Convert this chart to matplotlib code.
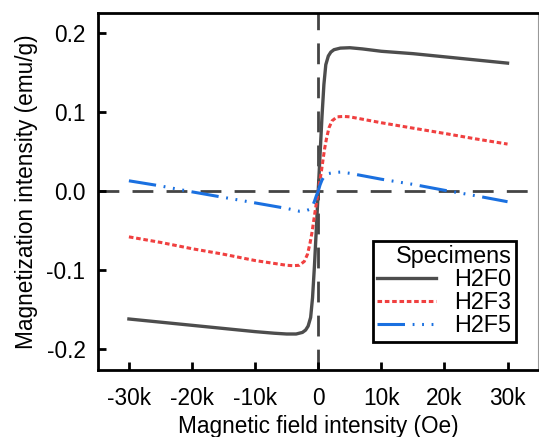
import matplotlib
matplotlib.use("Agg")
from matplotlib import pyplot as plt

plt.rcParams['font.family'] = ['Liberation Sans', 'DejaVu Sans']
plt.rcParams['font.size'] = 16.3

# champ (Oe) et aimantation (emu/g)
H_f0 = [-30000, -25000, -20000, -15000, -10000, -7000, -5000, -3500, -2500, -2000,
        -1600, -1200, -900, -600, -300, 0, 300, 600, 900, 1200, 1600, 2000, 2500,
        3500, 5000, 7000, 10000, 15000, 20000, 25000, 30000]
M_f0 = [-0.162, -0.166, -0.170, -0.174, -0.178, -0.180, -0.181, -0.181, -0.179, -0.176,
        -0.171, -0.160, -0.135, -0.095, -0.048, 0.0, 0.048, 0.095, 0.135, 0.160, 0.171,
        0.176, 0.179, 0.181, 0.1815, 0.180, 0.177, 0.174, 0.170, 0.166, 0.162]

H_f3 = [-30000, -25000, -20000, -15000, -10000, -5000, -4000, -3000, -2200, -1700,
        -1300, -1000, -500, 0, 500, 1000, 1300, 1700, 2200, 3000, 4000, 5000,
        10000, 15000, 20000, 25000, 30000]
M_f3 = [-0.058, -0.065, -0.073, -0.080, -0.088, -0.094, -0.0945, -0.094, -0.089, -0.080,
        -0.066, -0.053, -0.026, 0.0, 0.025, 0.053, 0.066, 0.080, 0.089, 0.094, 0.0945,
        0.094, 0.0865, 0.0797, 0.073, 0.066, 0.0595]

H_f5 = [-30000, -25000, -20000, -15000, -10000, -5000, -3000, -2000, -1300, -900,
        -600, -300, 0, 300, 600, 1000, 1500, 2500, 3500, 5000, 10000, 15000,
        20000, 25000, 30000]
M_f5 = [0.013, 0.0065, -0.001, -0.008, -0.015, -0.022, -0.0255, -0.025, -0.023, -0.019,
        -0.013, -0.006, 0.0, 0.008, 0.014, 0.019, 0.022, 0.0235, 0.024, 0.0225, 0.015,
        0.0085, 0.001, -0.006, -0.0135]

xticks = [-30000, -20000, -10000, 0, 10000, 20000, 30000]
xtick_labels = ['-30k', '-20k', '-10k', '0', '10k', '20k', '30k']
yticks = [-0.2, -0.1, 0.0, 0.1, 0.2]

fig = plt.figure(figsize=(5.39, 4.37), dpi=100)
ax = fig.add_axes([0.1818, 0.1533, 0.8172, 0.817])

# lignes du zero
ax.axhline(0, color='#444444', lw=2, dashes=(7.5, 4.75), zorder=1)
ax.axvline(0, color='#444444', lw=2, dashes=(7.5, 4.75), zorder=1)

ax.plot(H_f0, M_f0, color='#4d4d4d', lw=2.4, label='H2F0', zorder=3)
ax.plot(H_f3, M_f3, color='#f04040', lw=2.2, dashes=(1.5, 0.9), label='H2F3', zorder=3)
ax.plot(H_f5, M_f5, color='#1a70e0', lw=2.2,
        dashes=(9, 2.5, 0.6, 2.5, 0.6, 2.5, 0.6, 2.5), label='H2F5', zorder=3)

ax.set_xlim(-34900, 34900)
ax.set_ylim(-0.2266, 0.2255)
ax.set_xticks(xticks)
ax.set_xticklabels(xtick_labels)
ax.set_yticks(yticks)
ax.set_yticklabels(['-0.2', '-0.1', '0.0', '0.1', '0.2'])

ax.tick_params(direction='in', length=6, width=2, color='black')
ax.tick_params(axis='y', pad=9)
ax.tick_params(axis='x', pad=12)
for s in ['left', 'bottom', 'top']:
    ax.spines[s].set_linewidth(2)
    ax.spines[s].set_color('black')
ax.spines['right'].set_linewidth(0.8)
ax.spines['right'].set_color('#999999')

ax.set_xlabel('Magnetic field intensity (Oe)', labelpad=4)
ax.set_ylabel('Magnetization intensity (emu/g)', labelpad=6)

leg = ax.legend(title='Specimens', loc='lower right', bbox_to_anchor=(0.949, 0.078),
                fancybox=False, edgecolor='black', framealpha=1, fontsize=16.8,
                handlelength=2.5, handletextpad=0.8, labelspacing=0.0,
                borderpad=0.2, borderaxespad=0, alignment='right')
leg.get_frame().set_linewidth(2)
leg.get_title().set_fontsize(16.8)

fig.savefig('out.png', dpi=100)
